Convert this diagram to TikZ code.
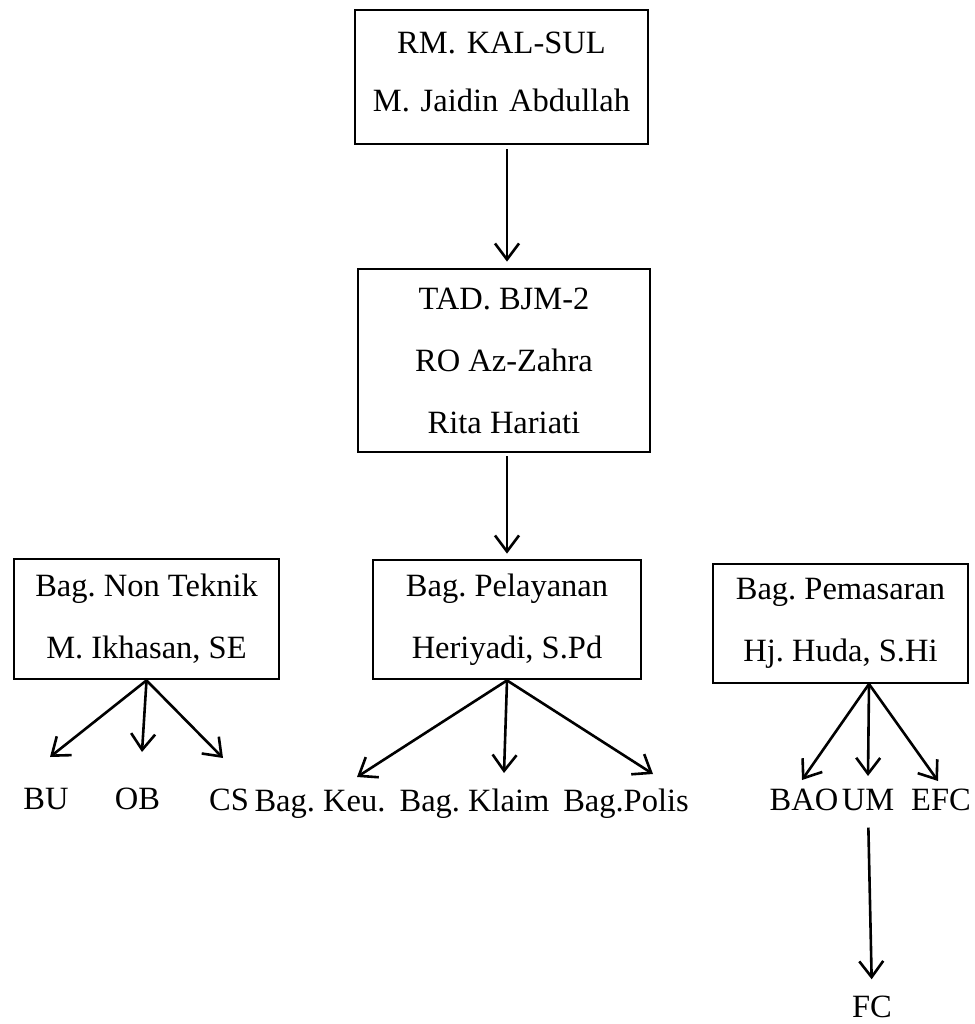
\documentclass[tikz,border=0pt]{standalone}
\usepackage{fontspec}
\setmainfont{Liberation Serif}
\usetikzlibrary{arrows.meta}
\frenchspacing
\begin{document}
\begin{tikzpicture}[x=1pt,y=-1pt,
  box/.style={draw,line width=2.8pt,align=center,inner sep=0pt,font=\frenchspacing\fontsize{32.5}{62}\selectfont},
  lbl/.style={anchor=base,inner sep=0pt,font=\frenchspacing\fontsize{32.5}{38}\selectfont},
  arr/.style={line width=2.6pt,-{Straight Barb[length=16pt,width=24pt]}}]
\useasboundingbox (0,0) rectangle (974,1024);
% boxes
\node[box,minimum width=293pt,minimum height=134pt,text width=293pt,font=\frenchspacing\fontsize{32.5}{58}\selectfont,
  execute at end node={\par\vspace*{10pt}}] (rm) at (501.5,77) {RM. KAL-SUL\\M. Jaidin Abdullah};
\node[box,minimum width=292pt,minimum height=183pt] (tad) at (504,360.5) {TAD. BJM-2\\RO Az-Zahra\\Rita Hariati};
\node[box,minimum width=265pt,minimum height=120pt] (nt) at (146.5,619) {Bag. Non Teknik\\M. Ikhasan, SE};
\node[box,minimum width=268pt,minimum height=119pt] (pel) at (507,619.5) {Bag. Pelayanan\\Heriyadi, S.Pd};
\node[box,minimum width=255pt,minimum height=119pt] (pem) at (840.5,623.5) {Bag. Pemasaran\\Hj. Huda, S.Hi};
% labels
\node[lbl] (bu) at (46,809) {BU};
\node[lbl] (ob) at (137.5,809) {OB};
\node[lbl] (cs) at (229,810) {CS};
\node[lbl] (keu) at (320,811) {Bag. Keu.};
\node[lbl] (klaim) at (474.5,811) {Bag. Klaim};
\node[lbl] (polis) at (626,811) {Bag.Polis};
\node[lbl] (bao) at (804,810) {BAO};
\node[lbl] (um) at (868,810) {UM};
\node[lbl] (efc) at (941,810) {EFC};
\node[lbl] (fc) at (872,1017) {FC};
% tips
\coordinate (tBU) at (50,757);
\coordinate (tOB) at (142,752);
\coordinate (tCS) at (223,758);
\coordinate (tKeu) at (357,777);
\coordinate (tKlaim) at (504,773);
\coordinate (tPolis) at (653,774);
\coordinate (pemS) at (869,684);
\coordinate (tBAO) at (802,780);
\coordinate (tUM) at (868,776);
\coordinate (tEFC) at (938,781);
% connectors
\draw[arr,shorten <=4pt,shorten >=6pt] (rm.south -| pel.north) -- (tad.north -| pel.north);
\draw[arr,shorten <=3pt,shorten >=5pt] (tad.south -| pel.north) -- (pel.north);
\draw[arr] (nt.south) -- (tBU);
\draw[arr] (nt.south) -- (tOB);
\draw[arr] (nt.south) -- (tCS);
\draw[arr] (pel.south) -- (tKeu);
\draw[arr] (pel.south) -- (tKlaim);
\draw[arr] (pel.south) -- (tPolis);
\draw[arr] (pemS) -- (tBAO);
\draw[arr] (pemS) -- (tUM);
\draw[arr] (pemS) -- (tEFC);
\draw[arr,shorten <=17pt,shorten >=16pt] (um.south) -- (fc.north);
\end{tikzpicture}
\end{document}
